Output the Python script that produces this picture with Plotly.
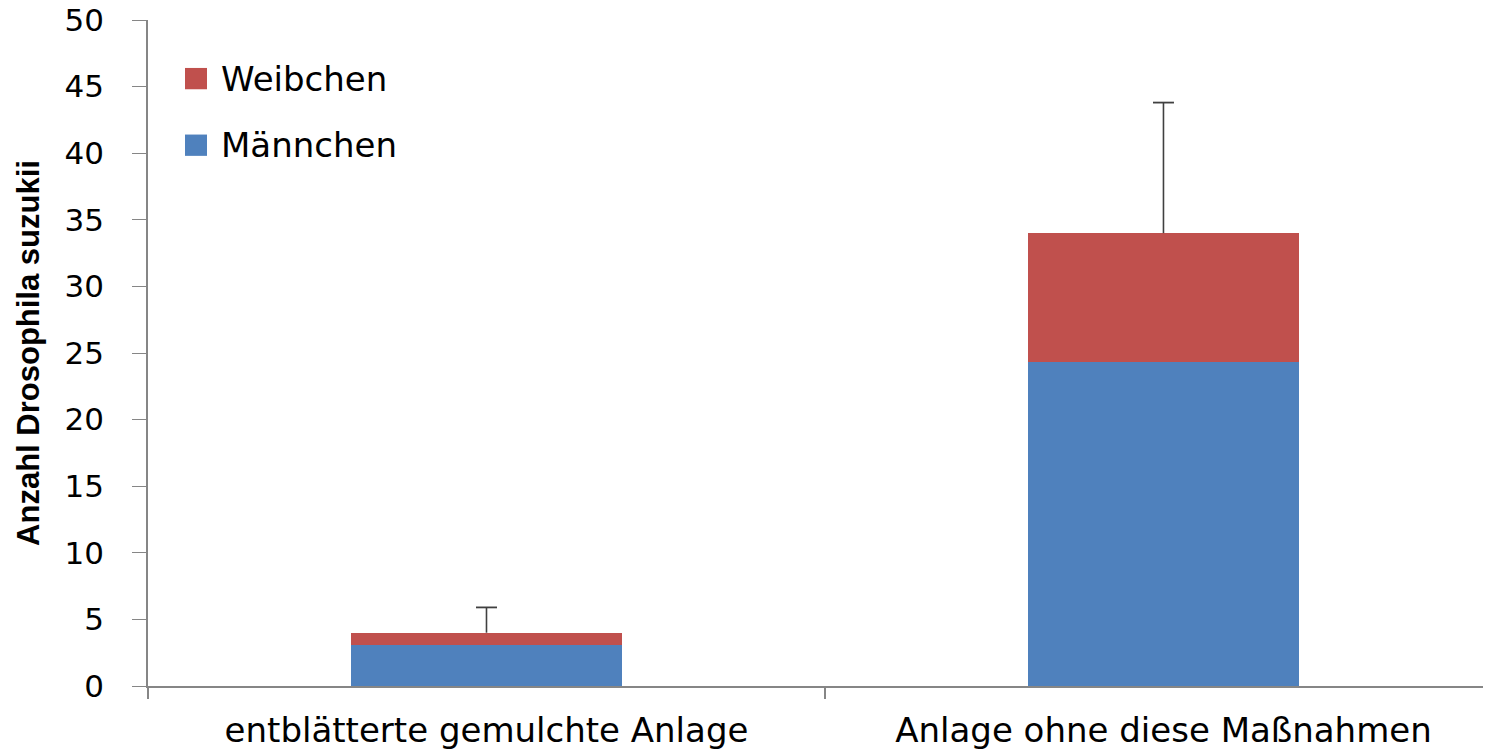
import plotly.graph_objects as go

# Data
categories = ["entblätterte gemulchte Anlage", "Anlage ohne diese Maßnahmen"]
maennchen = [3.1, 24.3]
weibchen = [0.9, 9.7]
fehler_plus = [1.9, 9.8]
y_ticks = list(range(0, 51, 5))

BLUE = "#4F81BD"
RED = "#C0504D"
AXIS = "#868686"
ERR = "#404040"
FONT = "DejaVu Sans"

fig = go.Figure()
fig.add_trace(go.Bar(
    x=categories, y=maennchen, name="Männchen",
    marker=dict(color=BLUE, line=dict(width=0)),
    showlegend=False,
))
fig.add_trace(go.Bar(
    x=categories, y=weibchen, name="Weibchen",
    marker=dict(color=RED, line=dict(width=0)),
    showlegend=False,
))

# Upper error whiskers from the top of each stack (cap only at the upper end)
totals = [m + w for m, w in zip(maennchen, weibchen)]
err_x, err_y = [], []
for c, t, e in zip(categories, totals, fehler_plus):
    err_x += [c, c, None]
    err_y += [t, t + e, None]
fig.add_trace(go.Scatter(
    x=err_x, y=err_y, mode="lines",
    line=dict(color=ERR, width=1.6),
    showlegend=False, hoverinfo="skip",
))
fig.add_trace(go.Scatter(
    x=categories, y=[t + e for t, e in zip(totals, fehler_plus)], mode="markers",
    marker=dict(symbol="line-ew", size=15, line=dict(color=ERR, width=1.8)),
    showlegend=False, hoverinfo="skip",
))

# Legend drawn as swatches + labels in the upper-left corner of the plot
legend_items = [("Weibchen", RED, 0.912), ("Männchen", BLUE, 0.812)]
for label, color, yc in legend_items:
    fig.add_shape(type="rect", xref="paper", yref="paper",
                  x0=0.0277, x1=0.0442, y0=yc - 0.016, y1=yc + 0.016,
                  fillcolor=color, line=dict(width=0))
    fig.add_annotation(text=label, xref="paper", yref="paper",
                       x=0.053, y=yc, xanchor="left", yanchor="middle",
                       showarrow=False, font=dict(family=FONT, size=34, color="#000000"))

fig.update_layout(
    width=1485, height=751,
    margin=dict(l=148, r=2, t=20, b=65),
    barmode="stack",
    bargap=0.6,
    plot_bgcolor="white",
    paper_bgcolor="white",
    font=dict(family=FONT, color="#000000"),
    xaxis=dict(
        type="category",
        range=[-0.5, 1.472],
        automargin=False,
        showline=True, linecolor=AXIS, linewidth=1.5,
        ticks="outside", tickson="boundaries", ticklen=11, tickcolor=AXIS, tickwidth=1.5,
        tickfont=dict(family=FONT, size=34, color="#000000"),
        ticklabelstandoff=13,
        showgrid=False,
    ),
    yaxis=dict(
        range=[0, 50], tickvals=y_ticks,
        automargin=False,
        showline=True, linecolor=AXIS, linewidth=1.5,
        ticks="outside", ticklen=14, tickcolor=AXIS, tickwidth=1,
        tickfont=dict(family=FONT, size=31, color="#000000"),
        ticklabelstandoff=22,
        showgrid=False, zeroline=False,
        title=dict(text="<b>Anzahl Drosophila suzukii</b>",
                   font=dict(family="Liberation Sans", size=31, color="#000000"),
                   standoff=16),
    ),
)

fig.write_html("out.html")
